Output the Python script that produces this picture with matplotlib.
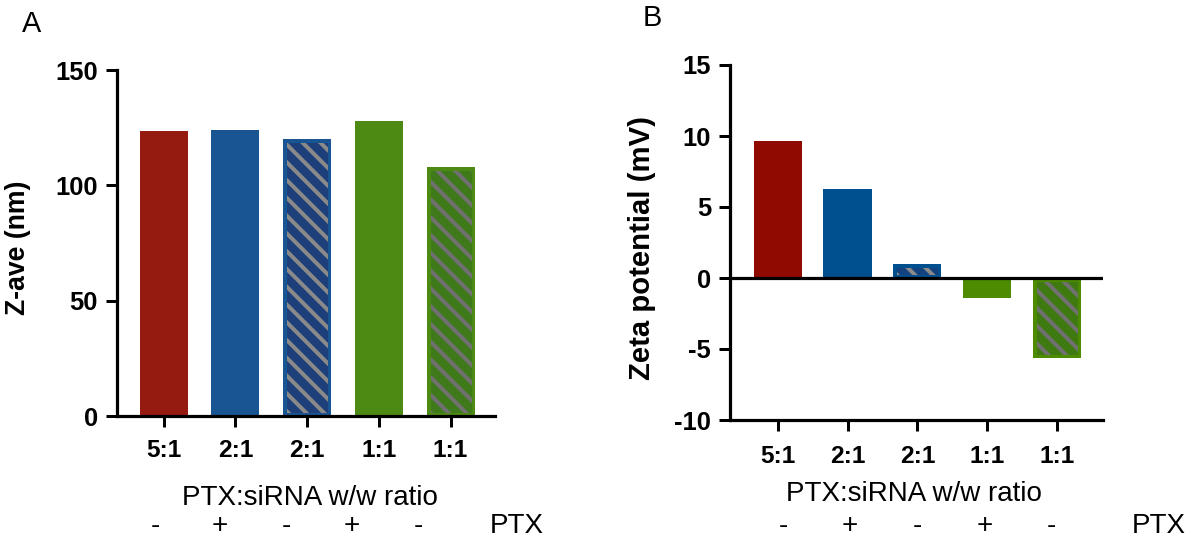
import matplotlib
matplotlib.use('Agg')
import matplotlib.pyplot as plt
import numpy as np

# data
ratios = ['5:1', '2:1', '2:1', '1:1', '1:1']
ptx = ['-', '+', '-', '+', '-']
zave = [123.7, 124.1, 120.1, 128.0, 107.8]
zeta = [9.65, 6.25, 0.96, -1.43, -5.6]
hatched = [False, False, True, False, True]

COLORS_A = ['#951a0f', '#1a5593', '#1a5593', '#4d8a13', '#4d8a13']
INNER_A = [None, None, '#1d3f7a', None, '#3f7a1a']
COLORS_B = ['#8f0a00', '#00508f', '#00508f', '#4d8c00', '#4d8c00']
INNER_B = [None, None, '#14427e', None, '#3f7a10']
HATCH_GRAY = ['#8a8a8a', '#8a8a8a', '#8a8a8a', '#707070', '#707070']

DPI = 160
W, H = 1185, 541
PT = 72 / DPI  # points per pixel

plt.rcParams['font.family'] = ['Liberation Sans', 'DejaVu Sans']
plt.rcParams['axes.unicode_minus'] = False
plt.rcParams['hatch.linewidth'] = 4 * PT

fig = plt.figure(figsize=(W / DPI, H / DPI), dpi=DPI)


def fig_xy(px, py):
    return px / W, (H - py) / H


def make_axes(left, right, top, bottom):
    x0, y0 = fig_xy(left, bottom)
    x1, y1 = fig_xy(right, top)
    return fig.add_axes([x0, y0, x1 - x0, y1 - y0])


def draw_bars(ax, values, colors, inner, width):
    x = np.arange(len(values))
    for i, v in enumerate(values):
        if not hatched[i]:
            ax.bar(x[i], v, width=width, color=colors[i], linewidth=0)
            continue
        ax.bar(x[i], v, width=width, color=inner[i], edgecolor=HATCH_GRAY[i],
               hatch='\\\\\\', linewidth=0)
        outline = ax.bar(x[i], v, width=width, fill=False,
                         edgecolor=colors[i], linewidth=7 * PT)[0]
        outline.set_clip_path(outline)


def style(ax, tick_pad):
    for s in ('top', 'right'):
        ax.spines[s].set_visible(False)
    for s in ('left', 'bottom'):
        ax.spines[s].set_linewidth(3.2 * PT)
    ax.tick_params(axis='both', direction='out', length=11 * PT,
                   width=3 * PT)
    ax.tick_params(axis='x', pad=tick_pad * PT, labelsize=11)
    ax.tick_params(axis='y', pad=8 * PT, labelsize=11.5)
    ax.set_xticks(np.arange(len(ratios)))
    ax.set_xticklabels(ratios, fontweight='bold')


# ---- panel A ----
axA = make_axes(117, 495, 70, 416)
draw_bars(axA, zave, COLORS_A, INNER_A, 0.67)
axA.set_ylim(0, 150)
axA.set_yticks([0, 50, 100, 150])
axA.set_xlim(-0.65, 4.62)
style(axA, 12)
for lab in axA.get_yticklabels():
    lab.set_fontweight('bold')

# ---- panel B ----
axB = make_axes(730, 1103, 65, 420)
draw_bars(axB, zeta, COLORS_B, INNER_B, 0.69)
axB.axhline(0, color='black', linewidth=3.2 * PT, zorder=3)
axB.set_ylim(-10, 15)
axB.set_yticks([-10, -5, 0, 5, 10, 15])
axB.set_xlim(-0.684, 4.66)
style(axB, 14)
for lab in axB.get_yticklabels():
    lab.set_fontweight('bold')

# ---- labels ----
fig.text(*fig_xy(32, 24), 'A', fontsize=13, ha='center', va='center')
fig.text(*fig_xy(652, 18), 'B', fontsize=13, ha='center', va='center')
fig.text(*fig_xy(18, 248), 'Z-ave (nm)', fontsize=12, fontweight='bold',
         rotation=90, ha='center', va='center')
fig.text(*fig_xy(642, 248), 'Zeta potential (mV)', fontsize=13.2,
         fontweight='bold', rotation=90, ha='center', va='center')
fig.text(*fig_xy(310, 498), 'PTX:siRNA w/w ratio', fontsize=12.5,
         ha='center', va='center')
fig.text(*fig_xy(914, 494), 'PTX:siRNA w/w ratio', fontsize=12.5,
         ha='center', va='center')

sign_px_A = [155, 220, 286, 352, 418]
sign_px_B = [783, 850, 917, 985, 1051]
for xs in (sign_px_A, sign_px_B):
    for px, s in zip(xs, ptx):
        fig.text(*fig_xy(px, 526), s, fontsize=12.5, ha='center', va='center')
fig.text(*fig_xy(490, 526), 'PTX', fontsize=12.5, ha='left', va='center')
fig.text(*fig_xy(1132, 526), 'PTX', fontsize=12.5, ha='left', va='center')

fig.savefig('out.png', dpi=DPI)
